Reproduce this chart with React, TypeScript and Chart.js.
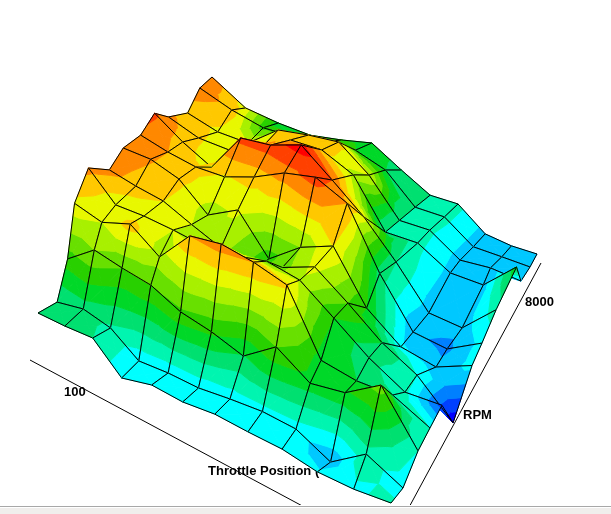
import React, { useEffect, useRef } from "react";
import { Chart, registerables } from "chart.js";

Chart.register(...registerables);

// Surface: one row per RPM step (front to back), one value per throttle step.
const heightRows: number[][] = [
  [12, 12.5, 14.6, -10.8, -2.7, -4, 0, -1, -1, -6, -5, 0],
  [11, 16.7, 10.8, -8.6, -6.6, -7, -3, 0, -1.5, -18, 7, -9.4],
  [43.6, 64.3, 58.5, 54, 40.3, 34, 23.8, 47.5, 26, 32, 55.5, 6],
  [90, 82, 91.7, 70.6, 104, 108.6, 103.6, 94.4, 33, 27, 27.6, 10],
  [114.8, 88, 87.4, 84.4, 80, 82, 88.5, 82, 57, 30.6, 10, 11],
  [101, 94, 88.6, 75, 62, 50, 64, 76, 51.5, 24, 4, -31],
  [111, 108, 96.8, 69.7, 84, 44.5, 66, 77.5, 26, -2, -11, 2],
  [112, 102.4, 95, 93, 101, 113.5, 118, 101, 40, -9, -16, 0],
  [122, 99.6, 81, 117, 117, 124.5, 97, 68, 31, -11.6, -18, 9],
  [107.7, 92.2, 86, 91.8, 108, 104.4, 86, 35.6, 31.7, 9, 4.4, 30],
  [99.8, 85.4, 79, 97, 97, 95.3, 67.7, 28, 24, 0, -1.6, -8.4],
  [114.2, 96, 82, 76.8, 76, 72, 56.6, 24, 19, -6, -11, -16],
  [116, 88, 76, 67, 65.6, 66, 42.5, 21, 16, -10, -18, -22],
];

// Palette level at each vertex (same layout as heightRows).
const levelRows: number[][] = [
  [6.2, 6.2, 6, 4.3, 4.4, 4.4, 4.4, 4.4, 4.4, 4.2, 4.8, 5.3],
  [6, 6.5, 5.8, 4.3, 4.3, 4.3, 4.4, 4.6, 4.5, 3.1, 5.6, 4.3],
  [8.5, 10, 9, 9, 8.8, 8.2, 6.9, 9, 7.5, 7.8, 9.5, 5],
  [11.7, 11, 12.5, 10.5, 13, 13.5, 13, 12.2, 7.5, 7, 6, 5],
  [13.3, 11.3, 11.3, 11, 10.5, 9.5, 9, 10.8, 8, 6.3, 5.2, 1.5],
  [13.3, 12.6, 12, 11, 10.3, 8.5, 9.5, 11.3, 9, 7, 5, 0.2],
  [13.6, 13.1, 12.3, 10.5, 11.2, 8.5, 10, 12, 8, 4.2, 3.3, 4.3],
  [13.8, 13, 12.3, 11.9, 12.4, 13.5, 14.5, 13, 6.5, 3.2, 2.7, 4.3],
  [14.2, 12.5, 11.3, 14.3, 14.5, 15.5, 14, 11.5, 6, 3.5, 3.3, 5.5],
  [13.3, 12.2, 11, 12, 12.5, 12.5, 10.5, 6, 5.3, 3.7, 3.4, 7.5],
  [12.4, 11.8, 11, 12, 12.3, 12.3, 11, 6, 5.2, 3.6, 3.4, 3.4],
  [13.6, 12.6, 8.5, 8, 8.5, 8, 7, 6, 5.3, 3.6, 3.4, 3.4],
  [13.7, 11.5, 7.5, 7.5, 8, 7.8, 6.5, 6, 5.3, 3.6, 3.4, 3.4],
];

const palette = [
  "#0000ff", "#0040ff", "#0080ff", "#00c8ff", "#00ffff", "#00f5b0", "#00e070", "#00d828",
  "#28d000", "#68e000", "#a8f000", "#e8f800", "#ffc800", "#ff8800", "#ff4000", "#ff0000",
];

// Spacing of the RPM rows on the page: height, left side, right side.
const rpmDepth = [0, 0.09, 0.17, 0.24, 0.32, 0.41, 0.5, 0.59, 0.68, 0.76, 0.85, 0.93, 1];
const rpmLeft = [0, 0.11, 0.17, 0.21, 0.29, 0.41, 0.49, 0.59, 0.67, 0.75, 0.86, 0.93, 1];
const rpmRight = [0, 0.082, 0.185, 0.267, 0.349, 0.425, 0.555, 0.623, 0.72, 0.86, 0.89, 0.952, 1];

const throttleTick = "100";
const rpmTick = "8000";
const throttleTitle = "Throttle Position (";
const rpmTitle = "RPM";

const W = 611;
const H = 514;
const nI = heightRows[0].length;
const nJ = heightRows.length;

type V = { x: number; y: number; c: number };

function warp(u: number, a: number) {
  return u * (a + (1 - a) * u);
}

function project(i: number, j: number): V {
  const u = i / (nI - 1);
  const f0 = warp(u, 0.82);
  const vy = rpmDepth[j];
  const yFront = 325 + 178 * f0;
  const yBack = 193 + 39 * f0;
  const base = yFront + (yBack - yFront) * vy;
  const f = warp(u, 0.82 + 0.33 * Math.pow(vy, 4));
  const vx = rpmLeft[j] * (1 - u) + rpmRight[j] * u;
  const x = (38 + 353 * f) * (1 - vx) + (212 + 325 * f) * vx;
  return { x, y: base - heightRows[j][i], c: levelRows[j][i] };
}

function clipBand(poly: V[], lo: number, hi: number): V[] {
  const cut = (pts: V[], keep: (v: V) => boolean, t: number) => {
    const out: V[] = [];
    for (let k = 0; k < pts.length; k++) {
      const a = pts[k];
      const b = pts[(k + 1) % pts.length];
      const ka = keep(a);
      const kb = keep(b);
      if (ka) out.push(a);
      if (ka !== kb) {
        const s = (t - a.c) / (b.c - a.c);
        out.push({ x: a.x + (b.x - a.x) * s, y: a.y + (b.y - a.y) * s, c: t });
      }
    }
    return out;
  };
  const p1 = cut(poly, (v) => v.c >= lo, lo);
  if (p1.length < 3) return [];
  return cut(p1, (v) => v.c <= hi, hi);
}

function buildDatasets() {
  const back: any[] = [];
  const line = (data: { x: number; y: number }[], color: string) => ({
    data,
    showLine: true,
    borderColor: color,
    borderWidth: 1,
    pointRadius: 0,
    fill: false as any,
    tension: 0,
  });
  back.push(line([{ x: 30, y: 360 }, { x: 308, y: 509 }], "#000000"));
  back.push(line([{ x: 407, y: 511 }, { x: 541, y: 263 }], "#000000"));

  for (let j = nJ - 2; j >= 0; j--) {
    for (let i = 0; i < nI - 1; i++) {
      const q = [project(i, j), project(i + 1, j), project(i + 1, j + 1), project(i, j + 1)];
      const m: V = {
        x: (q[0].x + q[1].x + q[2].x + q[3].x) / 4,
        y: (q[0].y + q[1].y + q[2].y + q[3].y) / 4,
        c: (q[0].c + q[1].c + q[2].c + q[3].c) / 4,
      };
      for (let k = 0; k < 4; k++) {
        const tri = [q[k], q[(k + 1) % 4], m];
        const lo = Math.floor(Math.min(tri[0].c, tri[1].c, tri[2].c));
        const hi = Math.floor(Math.max(tri[0].c, tri[1].c, tri[2].c));
        for (let b = lo; b <= hi; b++) {
          const poly = clipBand(tri, b, b + 1);
          if (poly.length < 3) continue;
          const col = palette[Math.max(0, Math.min(palette.length - 1, b))];
          back.push({
            ...line([...poly, poly[0]].map((p) => ({ x: p.x, y: p.y })), col),
            backgroundColor: col,
            fill: "shape",
          });
        }
      }
      back.push(line([...q, q[0]].map((p) => ({ x: p.x, y: p.y })), "#000000"));
    }
  }
  // Chart.js paints the last dataset first.
  return back.reverse();
}

const labelsPlugin = {
  id: "axisLabels",
  beforeDatasetsDraw(chart: any) {
    const { ctx, scales } = chart;
    ctx.save();
    ctx.fillStyle = "#000000";
    ctx.font = "bold 13px 'Liberation Sans', Arial, sans-serif";
    ctx.textBaseline = "middle";
    ctx.fillText(throttleTick, scales.x.getPixelForValue(64), scales.y.getPixelForValue(392));
    ctx.fillText(rpmTick, scales.x.getPixelForValue(525), scales.y.getPixelForValue(302));
    ctx.fillText(rpmTitle, scales.x.getPixelForValue(463), scales.y.getPixelForValue(415));
    ctx.fillText(throttleTitle, scales.x.getPixelForValue(208), scales.y.getPixelForValue(471));
    ctx.restore();
  },
  afterDraw(chart: any) {
    const { ctx } = chart;
    ctx.save();
    ctx.fillStyle = "#ffffff";
    ctx.fillRect(0, 505, W, 9);
    ctx.fillStyle = "#a8a8a8";
    ctx.fillRect(0, 506, W, 1);
    ctx.fillStyle = "#f0eeec";
    ctx.fillRect(0, 508, W, 6);
    ctx.restore();
  },
};

export default function App() {
  const ref = useRef<HTMLCanvasElement>(null);
  useEffect(() => {
    document.body.style.margin = "0";
    document.body.style.background = "#ffffff";
    const chart = new Chart(ref.current as HTMLCanvasElement, {
      type: "scatter",
      data: { datasets: buildDatasets() },
      options: {
        animation: false,
        responsive: false,
        events: [],
        layout: { padding: 0 },
        scales: {
          x: { type: "linear", min: 0, max: W, display: false },
          y: { type: "linear", min: 0, max: H, reverse: true, display: false },
        },
        plugins: {
          legend: { display: false },
          title: { display: false },
          tooltip: { enabled: false },
          filler: { drawTime: "beforeDatasetDraw" },
        } as any,
      },
      plugins: [labelsPlugin],
    } as any);
    return () => chart.destroy();
  }, []);
  return <canvas ref={ref} width={W} height={H} style={{ display: "block" }} />;
}
